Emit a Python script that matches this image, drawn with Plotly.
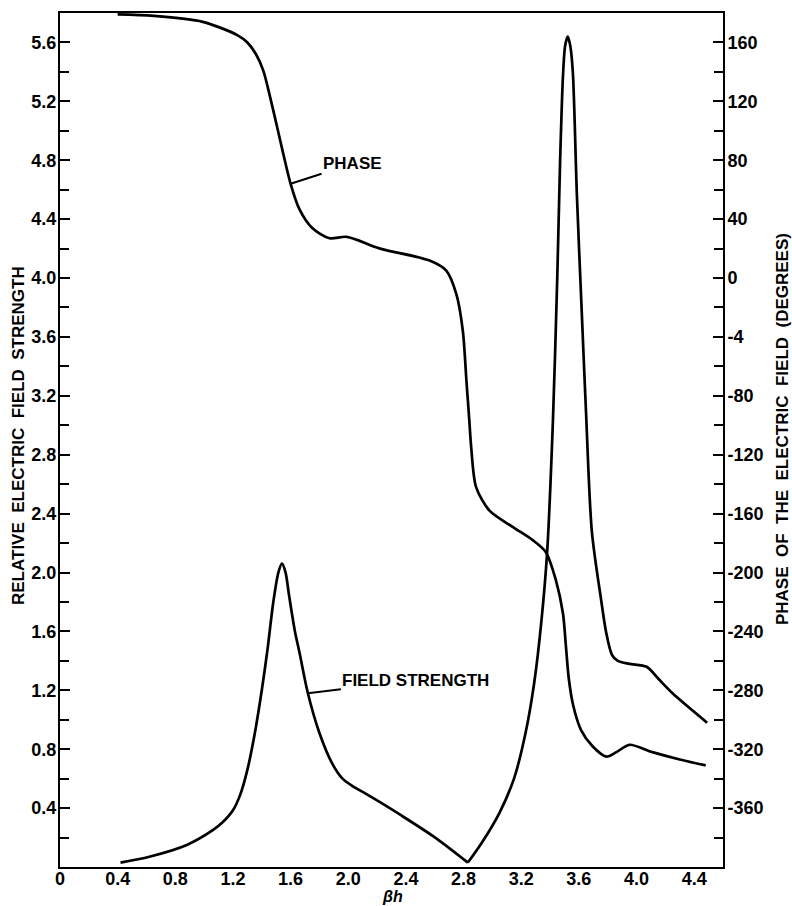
import plotly.graph_objects as go

# ---- data ----
field_x = [0.42, 0.62, 0.88, 1.06, 1.13, 1.20, 1.25, 1.30, 1.35, 1.40, 1.44, 1.48, 1.515, 1.54,
           1.565, 1.59, 1.63, 1.663, 1.72, 1.80, 1.89, 1.96, 2.03, 2.10, 2.22, 2.36, 2.61, 2.83,
           2.93, 3.05, 3.15, 3.23, 3.29, 3.34, 3.38, 3.42, 3.45, 3.47, 3.49, 3.505, 3.523,
           3.54, 3.558, 3.586, 3.62, 3.65, 3.69, 3.755, 3.79, 3.83, 3.87, 3.95, 4.07, 4.15,
           4.25, 4.49]
field_y = [0.03, 0.07, 0.15, 0.25, 0.305, 0.385, 0.49, 0.66, 0.90, 1.20, 1.48, 1.80, 2.00, 2.06,
           2.00, 1.84, 1.60, 1.45, 1.18, 0.91, 0.70, 0.60, 0.55, 0.51, 0.44, 0.355, 0.195, 0.03,
           0.17, 0.37, 0.60, 0.91, 1.25, 1.67, 2.14, 3.03, 4.00, 4.80, 5.38, 5.58, 5.64,
           5.58, 5.40, 4.57, 3.77, 3.08, 2.28, 1.81, 1.59, 1.44, 1.40, 1.38, 1.36, 1.28,
           1.18, 0.98]
field_vertex = 27  # index of the sharp minimum near 2.83

phase_x = [0.40, 0.65, 0.99, 1.23, 1.30, 1.36, 1.41, 1.46, 1.51, 1.55, 1.60, 1.66, 1.75, 1.87,
           1.99, 2.22, 2.56, 2.68, 2.75, 2.795, 2.82, 2.84, 2.853, 2.887, 2.98, 3.14, 3.28, 3.37,
           3.44, 3.49, 3.51, 3.53, 3.56, 3.615, 3.695, 3.79, 3.86, 3.95, 4.11, 4.30, 4.48]
phase_deg = [179, 178, 174, 165, 160, 152, 141, 122, 101, 84, 64, 47, 34, 27,
             28, 20, 12, 5, -11, -36, -70, -97, -115, -142, -158, -169, -178, -186,
             -205, -228, -250, -272, -290, -307, -318, -325, -322, -317, -322, -327, -331]

x_ticks = [0, 0.4, 0.8, 1.2, 1.6, 2.0, 2.4, 2.8, 3.2, 3.6, 4.0, 4.4]
x_labels = ["0", "0.4", "0.8", "1.2", "1.6", "2.0", "2.4", "2.8", "3.2", "3.6", "4.0", "4.4"]
left_ticks = [0.4, 0.8, 1.2, 1.6, 2.0, 2.4, 2.8, 3.2, 3.6, 4.0, 4.4, 4.8, 5.2, 5.6]
left_labels = ["0.4", "0.8", "1.2", "1.6", "2.0", "2.4", "2.8", "3.2", "3.6", "4.0", "4.4", "4.8", "5.2", "5.6"]
right_ticks = [-360, -320, -280, -240, -200, -160, -120, -80, -40, 0, 40, 80, 120, 160]
right_labels = ["-360", "-320", "-280", "-240", "-200", "-160", "-120", "-80", "-4", "0", "40", "80", "120", "160"]

FONT = "Liberation Sans"
W, H = 792, 906
L, R, T, B = 60, 723, 11, 867
PW, PH = R - L, B - T

def px(xp):
    return (xp - L) / PW

def py(yp):
    return (B - yp) / PH

line_style = dict(color="black", width=2.7, shape="spline", smoothing=0.8)

fig = go.Figure()
# field strength drawn in two pieces so the sharp minimum keeps its corner
v = field_vertex
fig.add_trace(go.Scatter(x=field_x[:v + 1], y=field_y[:v + 1], mode="lines", yaxis="y",
                         line=line_style, showlegend=False, hoverinfo="skip"))
fig.add_trace(go.Scatter(x=field_x[v:], y=field_y[v:], mode="lines", yaxis="y",
                         line=line_style, showlegend=False, hoverinfo="skip"))
fig.add_trace(go.Scatter(x=phase_x, y=phase_deg, mode="lines", yaxis="y2",
                         line=line_style, showlegend=False, hoverinfo="skip"))

tickfont = dict(family=FONT, size=18, color="black", weight="bold")

fig.update_layout(
    width=W, height=H, autosize=False,
    margin=dict(l=L, r=W - R, t=T, b=H - B, pad=0),
    paper_bgcolor="white", plot_bgcolor="white",
    xaxis=dict(range=[0, 4.6], tickmode="array", tickvals=x_ticks, ticktext=x_labels,
               ticks="", showgrid=False, zeroline=False, showline=True, linecolor="black",
               linewidth=2, mirror=True, tickfont=tickfont, ticklabelstandoff=-6),
    yaxis=dict(range=[0, 5.8], tickmode="array", tickvals=left_ticks, ticktext=left_labels,
               ticks="inside", ticklen=10, tickwidth=1.5, tickcolor="black",
               minor=dict(dtick=0.2, tick0=0, ticks="inside", ticklen=9, tickwidth=1.5, tickcolor="black"),
               showgrid=False, zeroline=False, showline=True, linecolor="black", linewidth=2,
               tickfont=tickfont, ticklabelstandoff=-2),
    yaxis2=dict(range=[-400, 180], overlaying="y", side="right", tickmode="array",
                tickvals=right_ticks, ticktext=right_labels,
                ticks="inside", ticklen=10, tickwidth=1.5, tickcolor="black",
                minor=dict(dtick=20, tick0=0, ticks="inside", ticklen=9, tickwidth=1.5, tickcolor="black"),
                showgrid=False, zeroline=False, showline=True, linecolor="black", linewidth=2,
                tickfont=tickfont, ticklabelstandoff=-1),
)

titlefont = dict(family=FONT, size=17, color="black", weight="bold")
sp = "\u00a0\u00a0"
fig.add_annotation(xref="paper", yref="paper", x=px(18), y=py(435), textangle=-90,
                   text="RELATIVE" + sp + "ELECTRIC" + sp + "FIELD" + sp + "STRENGTH",
                   showarrow=False, font=titlefont, xanchor="center", yanchor="middle")
fig.add_annotation(xref="paper", yref="paper", x=px(782), y=py(428), textangle=-90,
                   text="PHASE" + sp + "OF" + sp + "THE" + sp + "ELECTRIC" + sp + "FIELD" + sp + "(DEGREES)",
                   showarrow=False, font=titlefont, xanchor="center", yanchor="middle")
fig.add_annotation(xref="paper", yref="paper", x=px(392), y=py(897),
                   text="<i>βh</i>", showarrow=False, font=dict(family=FONT, size=16, color="black", weight="bold"),
                   xanchor="center", yanchor="middle")

labfont = dict(family=FONT, size=17, color="black", weight="bold")
fig.add_annotation(x=1.60, y=64, xref="x", yref="y2", text="PHASE", showarrow=True,
                   arrowhead=0, arrowwidth=2, arrowcolor="black", ax=62, ay=-20,
                   font=labfont, xanchor="center", yanchor="middle")
fig.add_annotation(x=1.72, y=1.18, xref="x", yref="y", text="FIELD STRENGTH", showarrow=True,
                   arrowhead=0, arrowwidth=2, arrowcolor="black", ax=108, ay=-13,
                   font=labfont, xanchor="center", yanchor="middle")

fig.write_html("out.html")
